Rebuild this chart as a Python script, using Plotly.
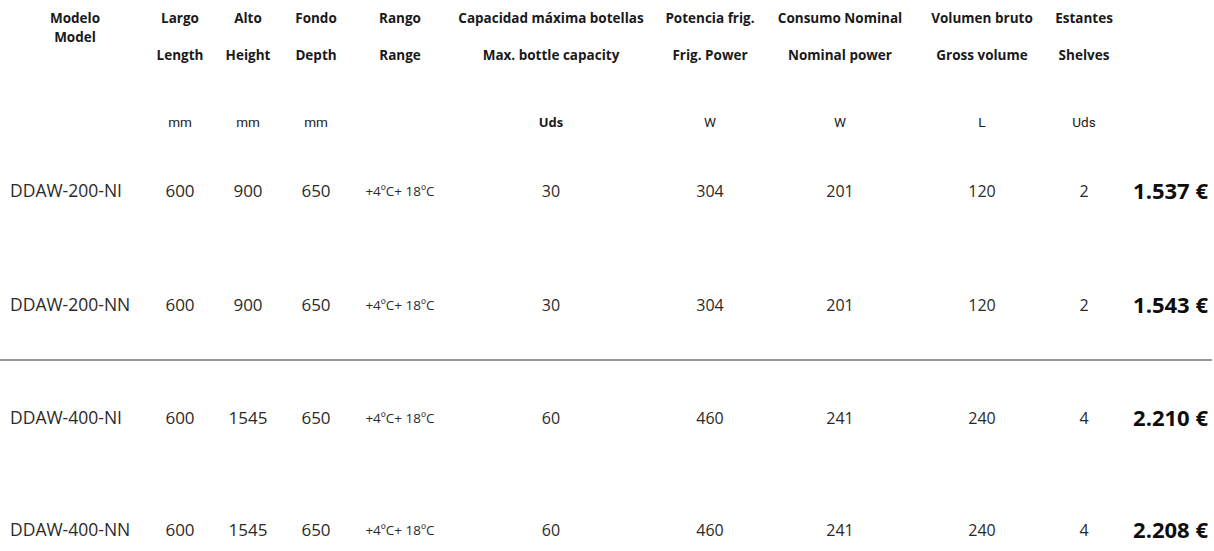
import plotly.graph_objects as go

# ---- data ----
header_es = ["Modelo", "Largo", "Alto", "Fondo", "Rango", "Capacidad máxima botellas",
             "Potencia frig.", "Consumo Nominal", "Volumen bruto", "Estantes"]
header_en = ["Model", "Length", "Height", "Depth", "Range", "Max. bottle capacity",
             "Frig. Power", "Nominal power", "Gross volume", "Shelves"]
units = ["", "mm", "mm", "mm", "", "Uds", "W", "W", "L", "Uds"]

models = ["DDAW-200-NI", "DDAW-200-NN", "DDAW-400-NI", "DDAW-400-NN"]
largo = [600, 600, 600, 600]
alto = [900, 900, 1545, 1545]
fondo = [650, 650, 650, 650]
rango = ["+4ºC+ 18ºC", "+4ºC+ 18ºC", "+4ºC+ 18ºC", "+4ºC+ 18ºC"]
capacidad = [30, 30, 60, 60]
potencia = [304, 304, 460, 460]
consumo = [201, 201, 241, 241]
volumen = [120, 120, 240, 240]
estantes = [2, 2, 4, 4]
precios = [1537, 1543, 2210, 2208]

# ---- layout (pixel positions) ----
W, H = 1214, 551
col_x = [75, 180, 248, 316, 400, 551, 710, 840, 982, 1084]
model_x = 10
price_x = 1208
row_y = [193, 307, 420, 532]
hdr1_y, hdr2_y, model2_y, unit_y = 20, 57, 39, 124
sep_y = 360

FONT = "Open Sans"
DARK = "#1a1a1a"
TXT = "#2a2a2a"

fig = go.Figure()

def txt(xs, ys, texts, size, color=TXT, family=FONT, pos="middle center", weight="normal"):
    fig.add_trace(go.Scatter(x=xs, y=ys, text=texts, mode="text", textposition=pos,
                             textfont=dict(family=family, size=size, color=color, weight=weight),
                             hoverinfo="skip", showlegend=False, cliponaxis=False))

# headers
HS = 13.5
txt(col_x, [hdr1_y] * len(col_x), [f"<b>{h}</b>" for h in header_es], HS, DARK)
txt(col_x[1:], [hdr2_y] * (len(col_x) - 1), [f"<b>{h}</b>" for h in header_en[1:]], HS, DARK)
txt([col_x[0]], [model2_y], [f"<b>{header_en[0]}</b>"], HS, DARK)

# units
unit_cols = [i for i, u in enumerate(units) if u and i != 5]
txt([col_x[i] for i in unit_cols], [unit_y] * len(unit_cols), [units[i] for i in unit_cols],
    13.5, DARK, "Roboto")
txt([col_x[5]], [unit_y], [f"<b>{units[5]}</b>"], 13, DARK)

# body
txt([model_x] * len(models), row_y, models, 17.5, pos="middle right")
for i, col in enumerate([largo, alto, fondo], start=1):
    txt([col_x[i]] * len(col), row_y, [str(v) for v in col], 17)
txt([col_x[4]] * len(rango), row_y, rango, 13.5)
for i, col in enumerate([capacidad, potencia, consumo, volumen, estantes], start=5):
    txt([col_x[i]] * len(col), row_y, [str(v) for v in col], 16)

price_txt = [f"<b>{p // 1000}.{p % 1000:03d} €</b>" for p in precios]
txt([price_x] * len(precios), row_y, price_txt, 22, "#0d0d0d", pos="middle left")

fig.add_shape(type="line", x0=0, x1=1212, y0=sep_y, y1=sep_y,
              line=dict(color="#333333", width=1))

fig.update_layout(
    width=W, height=H, margin=dict(l=0, r=0, t=0, b=0),
    paper_bgcolor="white", plot_bgcolor="white",
    xaxis=dict(range=[0, W], visible=False, fixedrange=True),
    yaxis=dict(range=[H, 0], visible=False, fixedrange=True),
)

fig.write_html("out.html", config={"displayModeBar": False},
               post_script="document.body.style.margin='0';"
                           "document.body.style.overflow='hidden';")
